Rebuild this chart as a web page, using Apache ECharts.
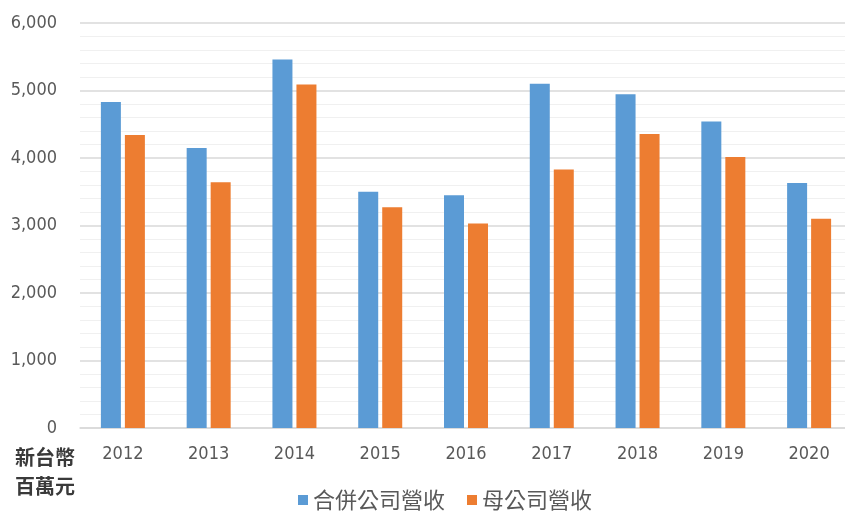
<!DOCTYPE html>
<html>
<head>
<meta charset="utf-8">
<script src="https://cdn.jsdelivr.net/npm/echarts@6/dist/echarts.min.js"></script>
<style>html,body{margin:0;padding:0;background:#fff;}#c{width:845px;height:512px;}</style>
</head>
<body>
<div id="c"></div>
<script>
const categories = ['2012','2013','2014','2015','2016','2017','2018','2019','2020'];
const consolidated = [4830, 4150, 5460, 3500, 3450, 5100, 4945, 4540, 3630];
const parent = [4340, 3640, 5090, 3270, 3030, 3830, 4355, 4015, 3100];
const seriesNames = ['合併公司營收', '母公司營收'];
const yTicks = [0, 1000, 2000, 3000, 4000, 5000, 6000];

const chart = echarts.init(document.getElementById('c'));
const labelFont = 'DejaVu Sans Condensed, DejaVu Sans, sans-serif';
chart.setOption({
  animation: false,
  backgroundColor: '#fff',
  grid: { left: 80, top: 23, width: 772, bottom: 84, outerBoundsMode: 'none', containLabel: false },
  legend: {
    data: seriesNames,
    left: 293, top: 484,
    itemWidth: 10, itemHeight: 10, itemGap: 22,
    icon: 'rect',
    textStyle: { fontFamily: 'Noto Sans CJK TC', fontSize: 22, color: '#595959' }
  },
  xAxis: {
    type: 'category',
    data: categories,
    axisTick: { show: false },
    axisLine: { lineStyle: { color: '#d9d9d9', width: 1.5 } },
    axisLabel: { fontFamily: labelFont, fontSize: 18, color: '#595959', margin: 17 }
  },
  yAxis: {
    type: 'value',
    min: yTicks[0], max: yTicks[yTicks.length - 1], interval: 1000,
    axisLine: { show: false },
    axisTick: { show: false },
    splitLine: { lineStyle: { color: '#d9d9d9', width: 1.5 } },
    minorTick: { show: false, splitNumber: 5 },
    minorSplitLine: { show: true, lineStyle: { color: '#f0f0f0', width: 1 } },
    axisLabel: {
      fontFamily: labelFont, fontSize: 18, color: '#595959', margin: 23,
      formatter: v => v.toString().replace(/\B(?=(\d{3})+(?!\d))/g, ',')
    }
  },
  graphic: [{
    type: 'text', left: 15, top: 443,
    style: { text: '新台幣\n百萬元', font: 'bold 20px "Noto Sans CJK TC"', fill: '#3a3a3a', lineHeight: 29 }
  }],
  series: [
    { name: seriesNames[0], type: 'bar', data: consolidated, barWidth: 20, barGap: '20%', itemStyle: { color: '#5B9BD5' } },
    { name: seriesNames[1], type: 'bar', data: parent, barWidth: 20, itemStyle: { color: '#ED7D31' } }
  ]
});
</script>
</body>
</html>
